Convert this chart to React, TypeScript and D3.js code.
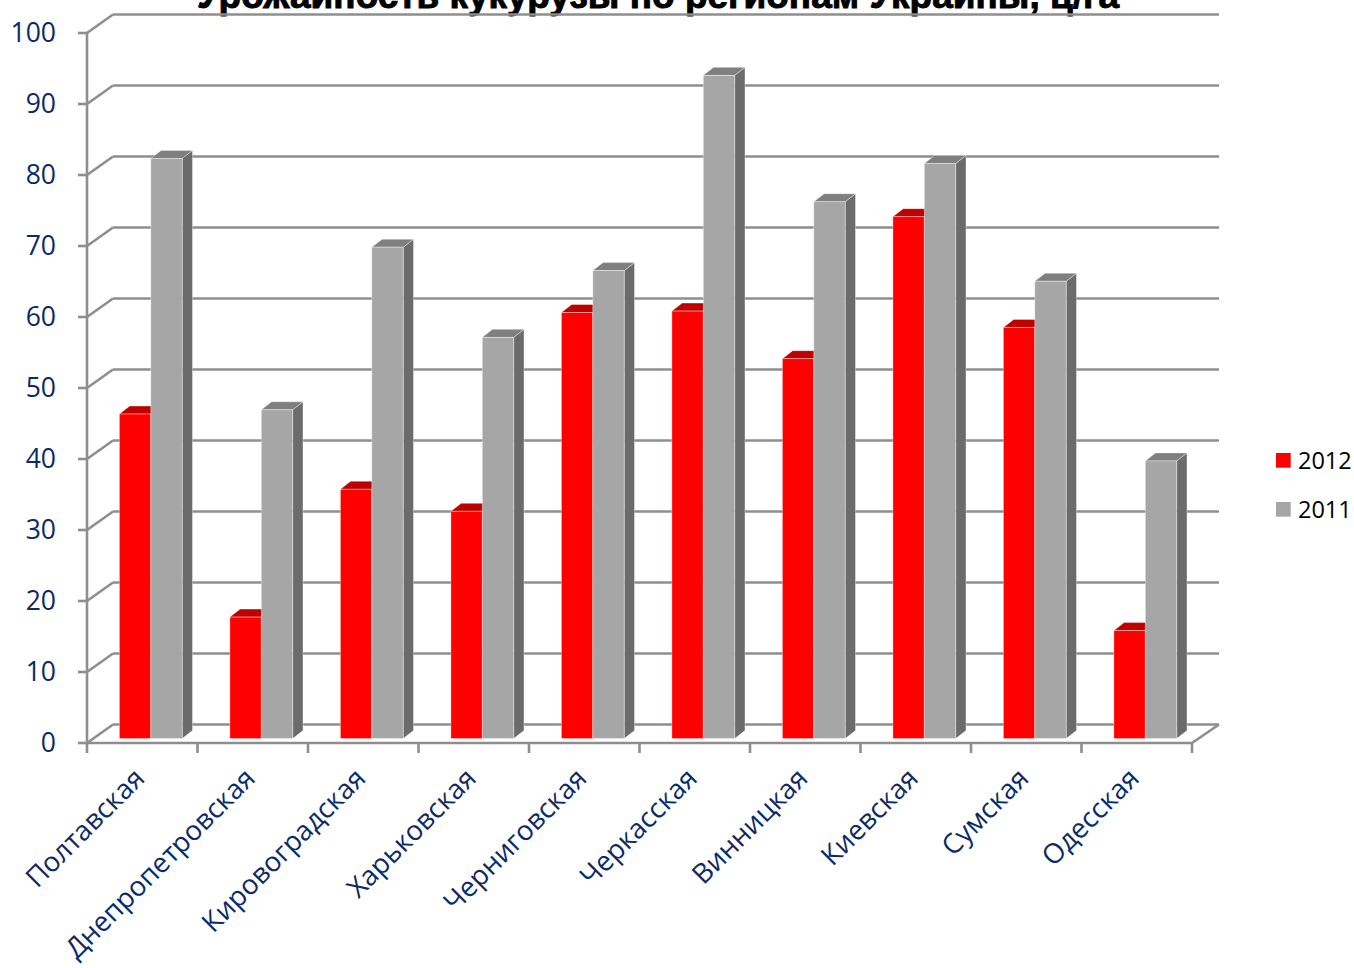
import React from "react";
import * as d3 from "d3";

const categories = [
  "Полтавская",
  "Днепропетровская",
  "Кировоградская",
  "Харьковская",
  "Черниговская",
  "Черкасская",
  "Винницкая",
  "Киевская",
  "Сумская",
  "Одесская",
];
const values2012 = [45.7, 17.1, 35.1, 32.0, 60.0, 60.2, 53.5, 73.5, 57.9, 15.2];
const values2011 = [81.7, 46.3, 69.2, 56.5, 65.9, 93.4, 75.6, 81.0, 64.4, 39.1];
const yTicks = [0, 10, 20, 30, 40, 50, 60, 70, 80, 90, 100];
const seriesNames = ["2012", "2011"];
const title = "Урожайность кукурузы по регионам Украины, ц/га";

const W = 1354;
const H = 968;
const DX = 26; // wall depth offset
const DY = -18.5;
const BDX = 10.3; // bar depth offset
const BDY = -8;
const BAR_W = 31.4;
const BAR_OFF = 32.4;

const x = d3.scaleBand<string>().domain(categories).range([87, 1192]);
const yFront = d3.scaleLinear().domain([0, 100]).range([743, 33]);
const yBar = d3.scaleLinear().domain([0, 100]).range([738.5, 28.5]);

const navy = "#0b2a66";
const gridColor = "#8e8e8e";

const faces = {
  red: { front: "#ff0000", top: "#c00000", side: "#a00000" },
  gray: { front: "#a6a6a6", top: "#7f7f7f", side: "#6b6b6b" },
};

function Bar({ x0, v, c }: { x0: number; v: number; c: { front: string; top: string; side: string } }) {
  const yt = yBar(v);
  const yb = yBar(0);
  const x1 = x0 + BAR_W;
  const top = `M${x0},${yt} L${x1},${yt} L${x1 + BDX},${yt + BDY} L${x0 + BDX},${yt + BDY} Z`;
  const side = `M${x1},${yt} L${x1 + BDX},${yt + BDY} L${x1 + BDX},${yb + BDY} L${x1},${yb} Z`;
  return (
    <g stroke="rgba(255,255,255,0.45)" strokeWidth={0.8}>
      <path d={side} fill={c.side} />
      <path d={top} fill={c.top} />
      <rect x={x0} y={yt} width={BAR_W} height={yb - yt} fill={c.front} />
    </g>
  );
}

export default function App() {
  const step = x.step();
  return (
    <svg width={W} height={H} style={{ position: "absolute", left: 0, top: 0, background: "#fff" }}
      fontFamily="'Open Sans', sans-serif">
      {/* title */}
      <text x={658} y={8} textAnchor="middle" fontFamily="'Liberation Sans', Arial, sans-serif"
        fontWeight={700} fontSize={37} fill="#000" stroke="#000" strokeWidth={0.9}>{title}</text>

      {/* gridlines on back wall + left diagonal connectors */}
      <g stroke={gridColor} strokeWidth={2.6} fill="none">
        {yTicks.map((t) => (
          <g key={t}>
            <line x1={87 + DX} x2={1219} y1={yFront(t) + DY} y2={yFront(t) + DY} />
            <line x1={87} y1={yFront(t)} x2={87 + DX} y2={yFront(t) + DY} />
            <line x1={78} x2={87} y1={yFront(t)} y2={yFront(t)} />
          </g>
        ))}
        {/* vertical axis */}
        <line x1={87} x2={87} y1={yFront(100)} y2={yFront(0)} />
        {/* floor front edge and right edge */}
        <line x1={87} x2={1192} y1={yFront(0)} y2={yFront(0)} />
        <line x1={1192} y1={yFront(0)} x2={1192 + DX + 1} y2={yFront(0) + DY} />
        {/* category ticks */}
        {categories.map((c) => (
          <line key={c} x1={x(c)!} x2={x(c)!} y1={yFront(0)} y2={yFront(0) + 10} />
        ))}
        <line x1={1192} x2={1192} y1={yFront(0)} y2={yFront(0) + 10} />
      </g>

      {/* y tick labels */}
      <g fill={navy} fontSize={26.5} textAnchor="end">
        {yTicks.map((t) => (
          <text key={t} x={56} y={yFront(t) + 2} dominantBaseline="middle">{t}</text>
        ))}
      </g>

      {/* bars */}
      {categories.map((c, i) => {
        const x0 = x(c)! + BAR_OFF;
        return (
          <g key={c}>
            <Bar x0={x0} v={values2012[i]} c={faces.red} />
            <Bar x0={x0 + BAR_W} v={values2011[i]} c={faces.gray} />
          </g>
        );
      })}

      {/* category labels */}
      <g fill={navy} fontSize={27.5} textAnchor="end">
        {categories.map((c) => {
          const cx = x(c)! + step / 2 + 4;
          const cy = 780;
          return (
            <text key={c} x={cx} y={cy} transform={`rotate(-45, ${cx}, ${cy})`}>{c}</text>
          );
        })}
      </g>

      {/* legend */}
      <g fontSize={23.5} fill="#000">
        <rect x={1276} y={453} width={14.7} height={14.7} fill={faces.red.front} />
        <text x={1298} y={468.5}>{seriesNames[0]}</text>
        <rect x={1276} y={502} width={14.7} height={14.7} fill={faces.gray.front} />
        <text x={1298} y={517.5}>{seriesNames[1]}</text>
      </g>
    </svg>
  );
}
